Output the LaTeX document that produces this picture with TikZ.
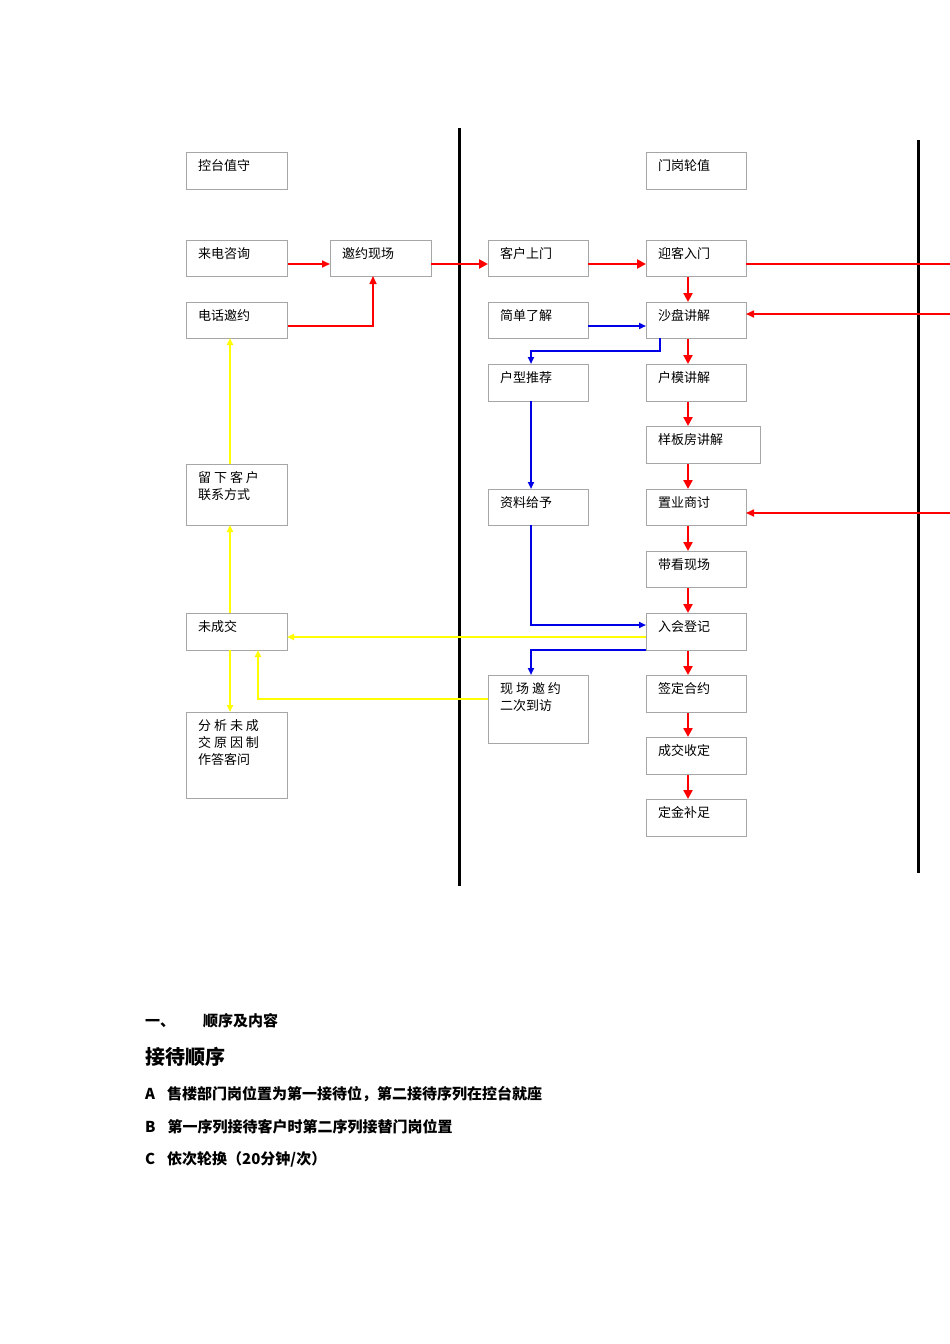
\documentclass[tikz,border=0pt]{standalone}
\usepackage{fontspec}
\setmainfont{Noto Sans CJK SC}
\usetikzlibrary{arrows.meta}
\newcommand{\bx}[6]{%
\node[draw=gray!70,line width=0.8pt,anchor=north west,minimum width=#4-#2,minimum height=#5-#3,inner sep=0pt] (#1) at (#2,-#3) {};
\node[anchor=north west,align=left,font=\fontsize{13}{17}\selectfont,inner sep=0pt] at (#2+12,-#3-7) {#6};}
\begin{document}
\begin{tikzpicture}[x=1pt,y=1pt,
 red/.style={draw={rgb,255:red,255;green,0;blue,0},line width=2.5pt,-{Triangle[length=9pt,width=9pt]}},
 redt/.style={draw={rgb,255:red,255;green,0;blue,0},line width=1.6pt,-{Triangle[length=8pt,width=7pt]}},
 blue/.style={draw={rgb,255:red,0;green,0;blue,230},line width=1.8pt,-{Triangle[length=7pt,width=6pt]}},
 yel/.style={draw={rgb,255:red,255;green,255;blue,0},line width=1.8pt,-{Triangle[length=7pt,width=6pt]}}]
\useasboundingbox (0,0) rectangle (950,-1344);
\fill[white] (0,0) rectangle (950,-1344);
\bx{a}{186}{152}{287}{189}{控台值守}
\bx{b}{646}{152}{746}{189}{门岗轮值}
\bx{c}{186}{240}{287}{276}{来电咨询}
\bx{d}{330}{240}{431}{276}{邀约现场}
\bx{e}{488}{240}{588}{276}{客户上门}
\bx{f}{646}{240}{746}{276}{迎客入门}
\bx{g}{186}{302}{287}{338}{电话邀约}
\bx{h}{488}{302}{588}{338}{简单了解}
\bx{i}{646}{302}{746}{338}{沙盘讲解}
\bx{j}{488}{364}{588}{401}{户型推荐}
\bx{k}{646}{364}{746}{401}{户模讲解}
\bx{l}{646}{426}{760}{463}{样板房讲解}
\bx{m}{186}{464}{287}{525}{留 下 客 户\\联系方式}
\bx{n}{488}{489}{588}{525}{资料给予}
\bx{o}{646}{489}{746}{525}{置业商讨}
\bx{p}{646}{551}{746}{587}{带看现场}
\bx{q}{186}{613}{287}{650}{未成交}
\bx{r}{646}{613}{746}{650}{入会登记}
\bx{s}{186}{712}{287}{798}{分 析 未 成\\交 原 因 制\\作答客问}
\bx{t}{488}{675}{588}{743}{现 场 邀 约\\二次到访}
\bx{u}{646}{675}{746}{712}{签定合约}
\bx{v}{646}{737}{746}{774}{成交收定}
\bx{w}{646}{799}{746}{836}{定金补足}
\draw[line width=3pt] (459,-128)--(459,-886);
\draw[line width=3pt] (918,-140)--(918,-873);
% red
\draw[redt] (c.east|-0,-264)--(d.west|-0,-264);
\draw[redt] (g.east|-0,-326)--(373,-326)--(373,-276);
\draw[red] (431,-264)--(e.west|-0,-264);
\draw[red] (588,-264)--(f.west|-0,-264);
\draw[draw={rgb,255:red,255;green,0;blue,0},line width=1.6pt] (746,-264)--(950,-264);
\draw[redt] (950,-314)--(746,-314);
\draw[redt] (950,-513)--(746,-513);
\foreach \x/\y in {f/i,i/k,k/l,l/o,o/p,p/r,r/u,u/v,v/w}
  \draw[red] (\x.south-|688,0)--(\y.north-|688,0);
% blue
\draw[blue] (588,-326)--(646,-326);
\draw[blue] (660,-338)--(660,-351)--(531,-351)--(531,-364);
\draw[blue] (531,-401)--(531,-489);
\draw[blue] (531,-525)--(531,-625)--(646,-625);
\draw[blue] (646,-650)--(531,-650)--(531,-675);
% yellow
\draw[yel] (646,-637)--(287,-637);
\draw[yel] (488,-699)--(258,-699)--(258,-650);
\draw[yel] (230,-650)--(230,-712);
\draw[yel] (230,-613)--(230,-525);
\draw[yel] (230,-464)--(230,-338);
% text
\begin{scope}[every node/.style={anchor=west,inner sep=0pt,font=\bfseries\fontsize{15}{18}\selectfont}]
\node (t1) at (145,-1021) {一、\hspace{28pt}顺序及内容};
\node[font=\bfseries\fontsize{20}{24}\selectfont] (t2) at (145,-1057) {接待顺序};
\node (t3) at (145,-1094) {A\hspace{12pt}售楼部门岗位置为第一接待位，第二接待序列在控台就座};
\node (t4) at (145,-1127) {B\hspace{12pt}第一序列接待客户时第二序列接替门岗位置};
\node (t5) at (145,-1159) {C\hspace{12pt}依次轮换（20分钟/次）};
\end{scope}
\end{tikzpicture}
\end{document}
